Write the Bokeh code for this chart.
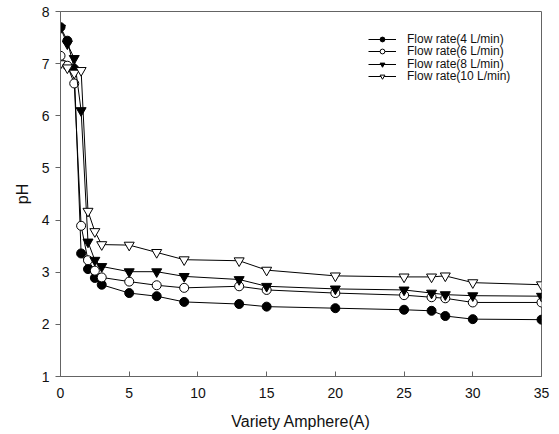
from bokeh.plotting import figure
from bokeh.models import Legend, LegendItem, FixedTicker, Range1d
from bokeh.embed import file_html
from bokeh.resources import INLINE

# Data
current = [0, 0.5, 1, 1.5, 2, 2.5, 3, 5, 7, 9, 13, 15, 20, 25, 27, 28, 30, 35]
ph_4 = [7.70, 7.44, 6.90, 3.36, 3.06, 2.89, 2.76, 2.60, 2.54, 2.43, 2.39, 2.34, 2.31, 2.28, 2.26, 2.16, 2.10, 2.09]
ph_6 = [7.15, 6.96, 6.62, 3.89, 3.23, 3.03, 2.90, 2.82, 2.75, 2.70, 2.73, 2.66, 2.60, 2.56, 2.52, 2.50, 2.42, 2.42]
ph_8 = [7.68, 7.38, 7.10, 6.10, 3.58, 3.23, 3.11, 3.01, 3.01, 2.92, 2.86, 2.73, 2.68, 2.66, 2.60, 2.57, 2.55, 2.54]
ph_10 = [7.00, 6.92, 6.82, 6.87, 4.17, 3.78, 3.53, 3.52, 3.38, 3.24, 3.22, 3.04, 2.93, 2.91, 2.91, 2.93, 2.80, 2.76]

series_labels = ["Flow rate(4 L/min)", "Flow rate(6 L/min)", "Flow rate(8 L/min)", "Flow rate(10 L/min)"]
x_ticks = [0, 5, 10, 15, 20, 25, 30, 35]
y_ticks = [1, 2, 3, 4, 5, 6, 7, 8]

FONT = "Liberation Sans"
AXIS_COLOR = "#646464"
TEXT_COLOR = "#111111"

W, H = 551, 434
BORDER_BOTTOM = 58

p = figure(width=W, height=H, output_backend="svg", toolbar_location=None,
           x_range=Range1d(0, 35), y_range=Range1d(1, 8),
           min_border_left=60, min_border_right=10, min_border_top=11, min_border_bottom=BORDER_BOTTOM,
           background_fill_color="white", border_fill_color="white")

p.xgrid.visible = False
p.ygrid.visible = False
p.outline_line_color = AXIS_COLOR
p.outline_line_width = 1

p.xaxis.ticker = FixedTicker(ticks=x_ticks)
p.yaxis.ticker = FixedTicker(ticks=y_ticks)
for ax in (p.xaxis[0], p.yaxis[0]):
    ax.axis_line_color = AXIS_COLOR
    ax.major_tick_line_color = AXIS_COLOR
    ax.minor_tick_line_color = None
    ax.major_label_text_font = FONT
    ax.major_label_text_font_size = "14px"
    ax.major_label_text_color = TEXT_COLOR
    ax.axis_label_text_font = FONT
    ax.axis_label_text_font_size = "16px"
    ax.axis_label_text_font_style = "normal"
    ax.axis_label_text_color = TEXT_COLOR

p.xaxis.major_tick_in = 5
p.xaxis.major_tick_out = 0
p.xaxis.major_label_standoff = 11
p.xaxis.axis_label = "Variety Amphere(A)"
p.xaxis.axis_label_standoff = 12

p.yaxis.major_tick_in = 0
p.yaxis.major_tick_out = 5
p.yaxis.major_label_standoff = 6
p.yaxis.axis_label = "pH"
p.yaxis.axis_label_standoff = 8

styles = [
    (ph_4, "circle", "black"),
    (ph_6, "circle", "white"),
    (ph_8, "inverted_triangle", "black"),
    (ph_10, "inverted_triangle", "white"),
]

items = []
for (vals, marker, fill), label in zip(styles, series_labels):
    lr = p.line(current, vals, line_color="black", line_width=1)
    sr = p.scatter(current, vals, marker=marker, size=9 if marker == "circle" else 10,
                   fill_color=fill, line_color="black", line_width=1)
    items.append(LegendItem(label=label, renderers=[lr, sr]))

row_centers = [39.5, 52.0, 64.5, 77.0]  # page px positions of the legend rows
frame_bottom_page = H - BORDER_BOTTOM
for item, yc in zip(items, row_centers):
    leg = Legend(items=[item], location=(308, frame_bottom_page - (yc + 6)),
                 padding=0, margin=0, spacing=0,
                 glyph_width=28, glyph_height=12, label_height=12, label_standoff=11,
                 label_text_font=FONT, label_text_font_size="12px", label_text_color=TEXT_COLOR,
                 border_line_alpha=0, background_fill_alpha=0)
    p.add_layout(leg, "center")

open("out.html", "w").write(file_html(p, INLINE))
